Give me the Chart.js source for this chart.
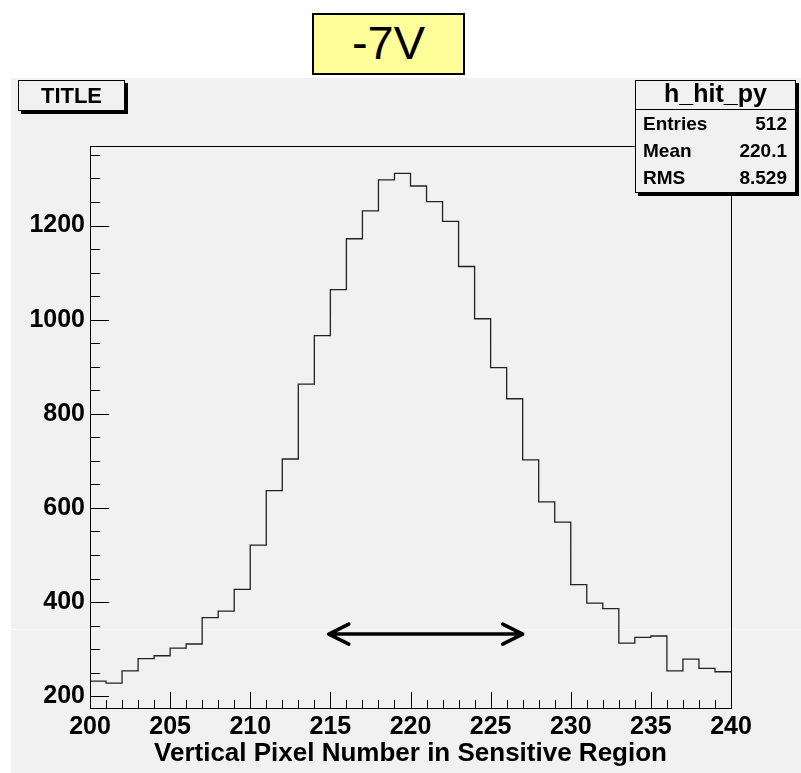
<!DOCTYPE html>
<html>
<head>
<meta charset="utf-8">
<script src="https://cdn.jsdelivr.net/npm/chart.js@4/dist/chart.umd.min.js"></script>
<style>
  html, body { margin: 0; padding: 0; background: #fff; }
  #wrap { position: relative; width: 801px; height: 773px; overflow: hidden; }
  #wrap canvas { position: absolute; left: 0; top: 0; }
  .box { position: absolute; box-sizing: border-box; font-family: 'Liberation Sans', Arial, sans-serif; color: #000; }
  #volt { left: 312px; top: 13px; width: 153px; height: 62px; background: #ffff99; border: 2px solid #000;
          font-size: 47px; text-align: center; line-height: 56px; }
  #title { left: 18px; top: 80px; width: 107px; height: 31px; background: #f1f1f1; border: 1px solid #000;
           box-shadow: 3px 3px 0 #000; font-weight: bold; font-size: 22px; text-align: center; line-height: 29px; }
  #stats { left: 635px; top: 80px; width: 161px; height: 113px; background: #f1f1f1; border: 1px solid #000;
           box-shadow: 3px 3px 0 #000; font-weight: bold; }
  #stats .hd { height: 28px; border-bottom: 1px solid #000; text-align: center; font-size: 25px; line-height: 25px; }
  #stats .row { display: flex; justify-content: space-between; padding: 0 8px 0 7px; font-size: 19px; height: 27px; line-height: 27px; }
</style>
</head>
<body>
<div id="wrap">
  <canvas id="histChart" width="801" height="773"></canvas>
  <div class="box" id="volt">-7V</div>
  <div class="box" id="title">TITLE</div>
  <div class="box" id="stats">
    <div class="hd">h_hit_py</div>
    <div class="row"><span>Entries</span><span>512</span></div>
    <div class="row"><span>Mean</span><span>220.1</span></div>
    <div class="row"><span>RMS</span><span>8.529</span></div>
  </div>
</div>
<script>
// histogram h_hit_py, one bin per pixel starting at 200
const xStart = 200;
const binWidth = 1;
const counts = [232, 228, 254, 280, 286, 302, 311, 367, 381, 427,
                521, 637, 704, 863, 966, 1064, 1172, 1231, 1297, 1311,
                1284, 1251, 1209, 1113, 1002, 898, 832, 702, 613, 570,
                437, 398, 386, 313, 325, 328, 254, 279, 259, 252];
const xTicks = [200, 205, 210, 215, 220, 225, 230, 235, 240];
const yTicks = [200, 400, 600, 800, 1000, 1200];
const arrowX = [214.9, 227.0];
const arrowY = 332;

const fontFamily = "'Liberation Sans', Arial, sans-serif";

// step points: left edge of each bin, plus the closing edge
const points = counts.map((c, i) => ({ x: xStart + i * binWidth, y: c }));
points.push({ x: xStart + counts.length * binWidth, y: counts[counts.length - 1] });

const rootStyle = {
    id: 'rootStyle',
    beforeDraw(chart) {
        const ctx = chart.ctx;
        ctx.save();
        ctx.fillStyle = '#fff';
        ctx.fillRect(0, 0, chart.width, chart.height);
        ctx.fillStyle = '#f1f1f1';
        ctx.fillRect(11, 78, chart.width - 11, chart.height - 78);
        ctx.restore();
    },
    beforeDatasetsDraw(chart) {
        // faint white scan line across the pad
        const ctx = chart.ctx;
        ctx.save();
        ctx.strokeStyle = '#fff';
        ctx.lineWidth = 1;
        ctx.beginPath();
        ctx.moveTo(11, 629.5);
        ctx.lineTo(chart.width, 629.5);
        ctx.stroke();
        ctx.restore();
    },
    afterDatasetsDraw(chart) {
        const ctx = chart.ctx;
        const a = chart.chartArea;
        const xs = chart.scales.x, ys = chart.scales.y;
        ctx.save();
        ctx.strokeStyle = '#000';
        ctx.lineWidth = 1;
        ctx.strokeRect(Math.round(a.left) + 0.5, Math.round(a.top) + 0.5,
                       Math.round(a.right - a.left), Math.round(a.bottom - a.top));

        // inward ticks, ROOT style
        ctx.beginPath();
        for (let v = xs.min; v <= xs.max; v += 1) {
            const px = Math.round(xs.getPixelForValue(v)) + 0.5;
            const len = (v % 5 === 0) ? 16 : 8;
            ctx.moveTo(px, a.bottom);
            ctx.lineTo(px, a.bottom - len);
        }
        for (let v = Math.ceil(ys.min / 50) * 50; v <= ys.max; v += 50) {
            const py = Math.round(ys.getPixelForValue(v)) + 0.5;
            const len = (v % 200 === 0) ? 19 : 10;
            ctx.moveTo(a.left, py);
            ctx.lineTo(a.left + len, py);
        }
        ctx.stroke();

        // double arrow
        const x1 = xs.getPixelForValue(arrowX[0]);
        const x2 = xs.getPixelForValue(arrowX[1]);
        const y = ys.getPixelForValue(arrowY);
        ctx.lineWidth = 3.5;
        ctx.lineCap = 'round';
        ctx.lineJoin = 'round';
        ctx.beginPath();
        ctx.moveTo(x1, y);
        ctx.lineTo(x2, y);
        ctx.moveTo(x1 + 20, y - 10);
        ctx.lineTo(x1, y);
        ctx.lineTo(x1 + 20, y + 10);
        ctx.moveTo(x2 - 20, y - 10);
        ctx.lineTo(x2, y);
        ctx.lineTo(x2 - 20, y + 10);
        ctx.stroke();
        ctx.restore();
    }
};

const ctx = document.getElementById('histChart').getContext('2d');
new Chart(ctx, {
    type: 'line',
    data: {
        datasets: [{
            data: points,
            stepped: 'before',
            borderColor: '#222',
            borderWidth: 1.3,
            pointRadius: 0,
            fill: false
        }]
    },
    options: {
        animation: false,
        responsive: false,
        devicePixelRatio: 1,
        layout: { padding: { left: 0, top: 146, right: 70, bottom: 0 } },
        plugins: { legend: { display: false }, tooltip: { enabled: false } },
        scales: {
            x: {
                type: 'linear',
                min: 200,
                max: 240,
                grid: { display: false, drawTicks: false },
                border: { display: false },
                afterBuildTicks: s => { s.ticks = xTicks.map(v => ({ value: v })); },
                afterFit: s => { s.height = 65; },
                ticks: {
                    font: { family: fontFamily, size: 25, weight: 'bold' },
                    color: '#000',
                    padding: 4,
                    maxRotation: 0,
                    autoSkip: false,
                    callback: v => String(v)
                },
                title: {
                    display: true,
                    text: 'Vertical Pixel Number in Sensitive Region',
                    font: { family: fontFamily, size: 26, weight: 'bold' },
                    color: '#000',
                    padding: { top: 0, bottom: 4 }
                }
            },
            y: {
                type: 'linear',
                min: 175,
                max: 1369,
                grid: { display: false, drawTicks: false },
                border: { display: false },
                afterBuildTicks: s => { s.ticks = yTicks.map(v => ({ value: v })); },
                afterFit: s => { s.width = 90; },
                ticks: {
                    font: { family: fontFamily, size: 25, weight: 'bold' },
                    color: '#000',
                    padding: 5,
                    autoSkip: false,
                    callback: v => String(v)
                }
            }
        }
    },
    plugins: [rootStyle]
});
</script>
</body>
</html>
